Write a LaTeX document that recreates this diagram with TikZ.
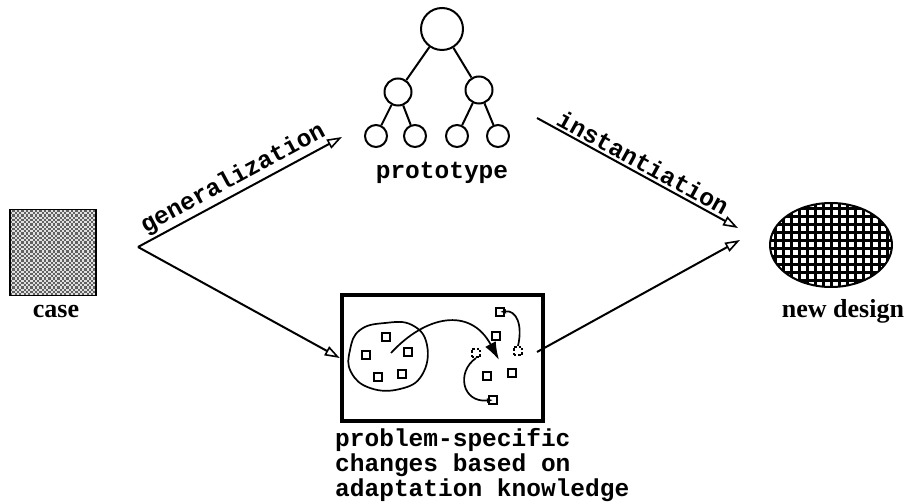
\documentclass[tikz,border=0pt]{standalone}
\usepackage{fontspec}
\setmainfont{Liberation Serif}
\setmonofont{Liberation Mono}
\usetikzlibrary{arrows.meta,shapes.geometric}
\begin{document}
\begin{tikzpicture}[x=1pt,y=-1pt,
  lbl/.style={font=\fontsize{24.5}{25}\selectfont\ttfamily\bfseries, inner sep=2pt},
  ser/.style={font=\fontsize{26}{28}\selectfont\bfseries, inner sep=0pt},
  conn/.style={line width=2pt, -{Triangle[open,length=15pt,width=10pt,line width=1.6pt]}},
  tc/.style={circle,draw,line width=2pt,inner sep=0pt},
  tedge/.style={line width=2pt},
  sq/.style={draw,line width=1.6pt,minimum size=8.5pt,inner sep=0pt},
  dsq/.style={sq,dash pattern=on 2.5pt off 2pt},
  mv/.style={line width=1.7pt,-{Latex[length=6pt,width=5pt]}}]
\useasboundingbox (0,0) rectangle (904,502);

% ---- case: checkered square
\fill[black!62] (10,210) rectangle (96,295);
\begin{scope}
  \clip (10,210) rectangle (96,295);
  \foreach \i in {0,...,38} {
    \foreach \j in {0,2,...,38} {
      \fill[white!88!black] ({10+2.25*\i},{210+2.25*(\j+mod(\i,2))}) rectangle +(2.25,2.25);
    }
  }
\end{scope}
\node[draw,line width=1.5pt,minimum size=86pt,inner sep=0pt] (case) at (53,252.5) {};
\node[ser,anchor=base] (caselbl) at (56,318) {case};

% ---- new design: grid-filled ellipse
\begin{scope}
  \clip (831,245) ellipse [x radius=61pt, y radius=42pt];
  \fill[white] (765,200) rectangle (897,290);
  \foreach \x in {767,775,...,897} \draw[line width=3pt] (\x,200) -- (\x,290);
  \foreach \y in {201,209,...,290} \draw[line width=3pt] (765,\y) -- (897,\y);
\end{scope}
\node[ellipse,draw,line width=2pt,minimum width=122pt,minimum height=84pt,inner sep=0pt] (nd) at (831,245) {};
\node[ser,anchor=base] (ndlbl) at (843,318) {new design};

% ---- prototype tree
\node[tc,minimum size=42pt] (root) at (442,29) {};
\node[tc,minimum size=27pt] (l) at (398,92) {};
\node[tc,minimum size=27pt] (r) at (479,90) {};
\node[tc,minimum size=22pt] (ll) at (376,136) {};
\node[tc,minimum size=22pt] (lr) at (415,136) {};
\node[tc,minimum size=22pt] (rl) at (457,136) {};
\node[tc,minimum size=22pt] (rr) at (498,136) {};
\draw[tedge] (root) -- (l);
\draw[tedge] (root) -- (r);
\draw[tedge] (l) -- (ll);
\draw[tedge] (l) -- (lr);
\draw[tedge] (r) -- (rl);
\draw[tedge] (r) -- (rr);
\node[lbl,anchor=base] (proto) at (442,179) {prototype};

% ---- adaptation box
\node[draw,line width=4.5pt,minimum width=201pt,minimum height=126pt,inner sep=0pt] (box) at (442.5,358) {};
\draw[line width=1.7pt] plot[smooth cycle,tension=0.75] coordinates
  {(350,350) (360,330) (385,323) (412,325) (427,345) (422,375) (400,389) (370,388) (351,372)};
\node[sq] (a1) at (386,337) {};
\node[sq] (a2) at (366,355) {};
\node[sq] (a3) at (408,352) {};
\node[sq] (a4) at (378,377) {};
\node[sq] (a5) at (402,374) {};
\node[sq] (t1) at (500,312) {};
\node[sq] (t2) at (496,336) {};
\node[sq] (t3) at (487,376) {};
\node[sq] (t4) at (512,373) {};
\node[sq] (t5) at (493,400) {};
\node[dsq] (d1) at (476,353) {};
\node[dsq] (d2) at (518,351) {};
\coordinate (mstart) at (391,353);
\coordinate (mend) at (499,360);
\draw[line width=1.7pt,-{Latex[length=18pt,width=12pt]}] (mstart) .. controls (425,316) and (470,306) .. (mend);
\draw[mv] (d2.north) .. controls (523,324) and (516,310) .. (t1.center);
\draw[mv] (d1.south) .. controls (456,372) and (462,403) .. (t5.center);

\node[lbl,anchor=base west] (c1) at (333,446) {problem-specific};
\node[lbl,anchor=base west] (c2) at (333,471) {changes based on};
\node[lbl,anchor=base west] (c3) at (333,496) {adaptation knowledge};

% ---- main connectors
\coordinate (cout) at (138,247);
\coordinate (protoin) at (342,137);
\coordinate (protoout) at (537,118);
\coordinate (boxout) at (537,352);
\coordinate (nin1) at (738,228);
\coordinate (nin2) at (740,240);
\draw[conn] (cout) -- node[lbl,sloped,above] {generalization} (protoin);
\draw[conn] (cout) -- (box.west);
\draw[conn] (protoout) -- node[lbl,sloped,above] {instantiation} (nin1);
\draw[conn] (boxout) -- (nin2);
\end{tikzpicture}
\end{document}
